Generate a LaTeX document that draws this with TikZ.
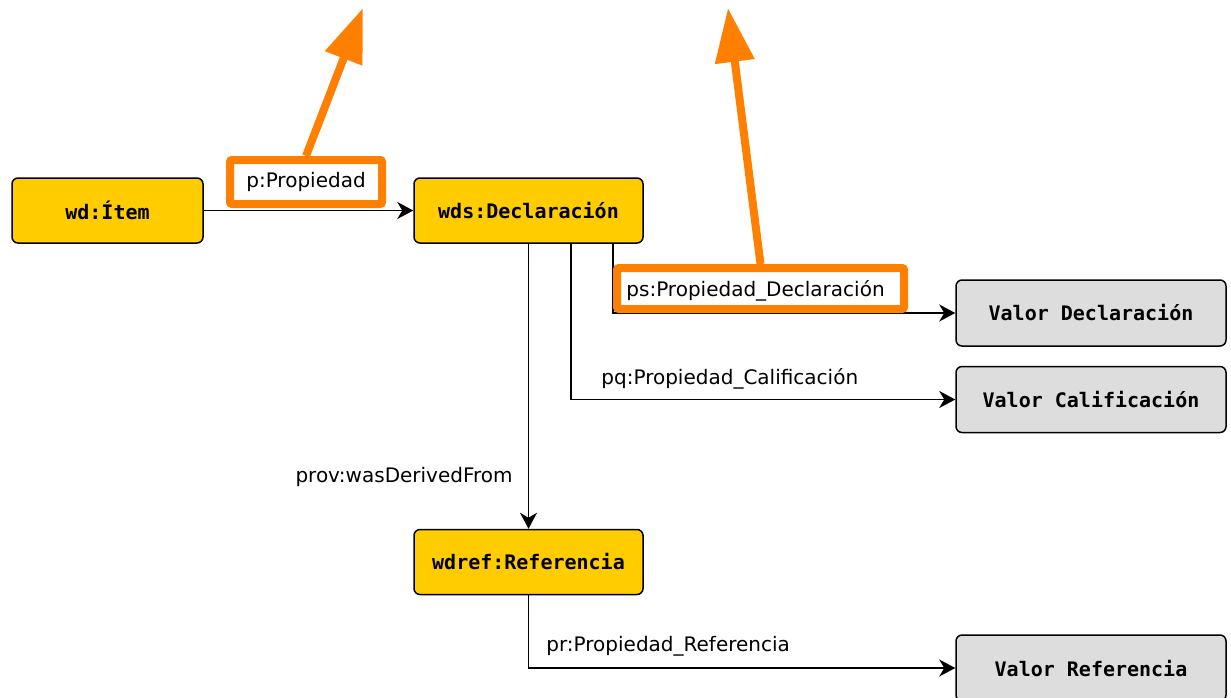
\documentclass[tikz,border=0pt]{standalone}
\usepackage{fontspec}
\setmainfont{DejaVu Sans}
\setmonofont{DejaVu Sans Mono}
\usetikzlibrary{arrows.meta}
\definecolor{gold}{HTML}{FFCC00}
\definecolor{lightgray}{HTML}{DDDDDD}
\definecolor{hiorange}{HTML}{FF8000}
\begin{document}
\begin{tikzpicture}[x=0.5pt,y=-0.5pt,
  entity/.style={draw=black, line width=0.75pt, rounded corners=3pt, fill=gold,
    font=\ttfamily\bfseries\fontsize{10}{12}\selectfont, minimum height=32.5pt, inner sep=0pt},
  valuebox/.style={entity, fill=lightgray, minimum width=135pt, minimum height=33pt},
  edge/.style={draw=black, line width=0.8pt, -{Stealth[length=8pt,width=8.5pt,inset=2.5pt]}},
  lbl/.style={font=\fontsize{10}{12}\selectfont, inner sep=0pt},
  obox/.style={draw=hiorange, line width=4pt, fill=white, rounded corners=1pt, inner sep=0pt},
  oarrow/.style={draw=hiorange, line width=4pt, -{Triangle[length=27pt,width=19pt]}}]
\useasboundingbox (0,0) rectangle (1231,697);

% entities
\node[entity, minimum width=95.5pt] (item) at (107.5,210.5) {wd:Ítem};
\node[entity, minimum width=114.5pt] (decl) at (528.5,210.5) {wds:Declaración};
\node[entity, minimum width=114.5pt] (ref) at (528.5,562) {wdref:Referencia};
\node[valuebox] (vdecl) at (1091,313) {Valor Declaración};
\node[valuebox] (vcal) at (1091,399.5) {Valor Calificación};
\node[valuebox] (vref) at (1091,668) {Valor Referencia};

% connectors
\draw[edge] (item) -- (decl);
\draw[edge] ([xshift=42.25pt]decl.south) |- (vdecl.west);
\draw[edge] ([xshift=21.25pt]decl.south) |- (vcal.west);
\draw[edge] (decl) -- (ref);
\draw[edge] (ref.south) |- (vref.west);

% highlighted labels
\node[obox, minimum width=76pt, minimum height=22pt, font=\fontsize{10}{12}\selectfont] (pbox) at (306,182) {p:Propiedad};
\node[obox, minimum width=143.5pt, minimum height=20.5pt] (psbox) at (760.5,288.5) {};
\node[lbl, anchor=west] (pslbl) at (626,291) {ps:Propiedad\_Declaración};

% other labels
\node[lbl, anchor=west] (pqlbl) at (601,379) {pq:Propiedad\_Calificación};
\node[lbl, anchor=east] (provlbl) at (513,477) {prov:wasDerivedFrom};
\node[lbl, anchor=west] (prlbl) at (546,646) {pr:Propiedad\_Referencia};

% orange pointer arrows
\coordinate (tip1) at (363,8);
\coordinate (tip2) at (728,8);
\draw[oarrow] (pbox.north) -- (tip1);
\draw[oarrow] (psbox.north) -- (tip2);
\end{tikzpicture}
\end{document}
